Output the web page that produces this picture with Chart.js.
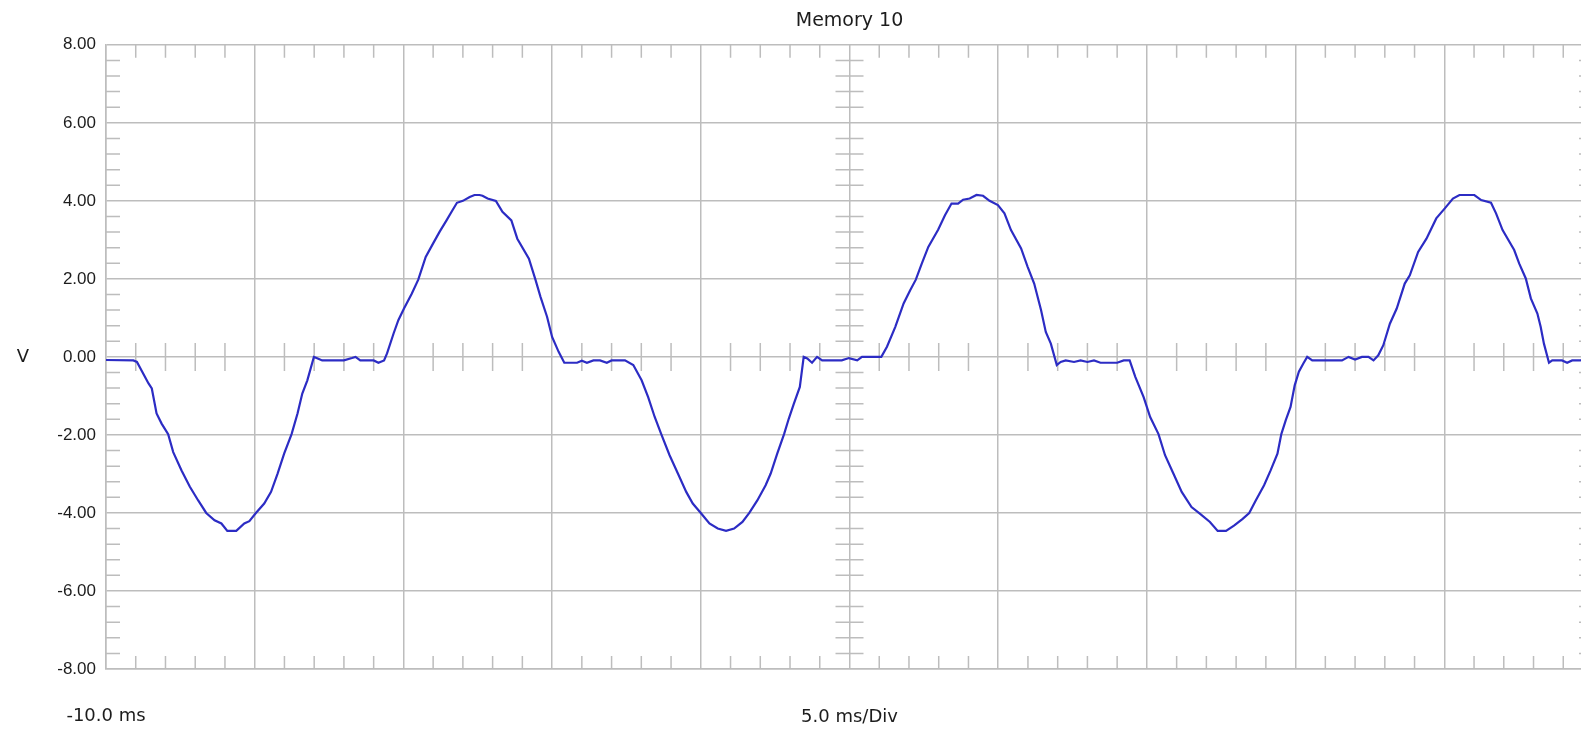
<!DOCTYPE html>
<html lang="en">
<head>
  <meta charset="UTF-8">
  <title>Memory 10</title>
  <script src="https://cdn.jsdelivr.net/npm/chart.js"></script>
  <style>
    body { margin: 0; background: #fff; overflow: hidden; }
  </style>
</head>
<body>
  <!-- the screen is wider than the window: the right border is cut off like in the photo -->
  <canvas id="chart" width="1630" height="729"></canvas>

  <script>
  // trace, time in ms, voltage in V
  const timeMs = [
    -10, -9.08, -8.96, -8.57, -8.46, -8.30, -8.13, -7.91, -7.74, -7.46, -7.18, -6.90, -6.63, -6.35,
    -6.12, -5.92, -5.62, -5.35, -5.18, -4.96, -4.68, -4.45, -4.23, -4.01, -3.76, -3.56, -3.40, -3.23,
    -3.01, -2.92, -2.73, -2.00, -1.73, -1.61, -1.45, -1.00, -0.84, -0.65, -0.55, -0.33, -0.17, 0.02,
    0.28, 0.50, 0.75, 1.00, 1.22, 1.45, 1.65, 1.80, 2.00, 2.23, 2.39, 2.56, 2.66, 2.83, 3.11, 3.33,
    3.63, 3.83, 4.22, 4.44, 4.61, 4.83, 5.00, 5.22, 5.41, 5.84, 6.00, 6.17, 6.39, 6.61, 6.84, 7.00,
    7.45, 7.73, 8.01, 8.23, 8.45, 8.67, 8.95, 9.23, 9.51, 9.73, 10.00, 10.29, 10.57, 10.85, 11.12,
    11.40, 11.63, 11.90, 12.18, 12.35, 12.57, 12.80, 12.96, 13.13, 13.33, 13.46, 13.58, 13.74, 13.91,
    14.08, 14.74, 14.98, 15.26, 15.42, 16.07, 16.26, 16.54, 16.82, 17.04, 17.23, 17.43, 17.65, 17.98,
    18.21, 18.43, 18.65, 18.82, 19.04, 19.27, 19.49, 19.71, 19.99, 20.21, 20.43, 20.77, 20.99, 21.21,
    21.44, 21.60, 21.77, 21.97, 22.10, 22.27, 22.55, 22.77, 23.00, 23.22, 23.44, 24.00, 24.22, 24.42,
    24.61, 24.89, 25.11, 25.39, 25.61, 25.89, 26.17, 26.50, 26.78, 27.12, 27.38, 27.66, 27.94, 28.22,
    28.44, 28.66, 28.94, 29.16, 29.39, 29.52, 29.67, 29.83, 29.97, 30.11, 30.26, 30.39, 30.56, 31.56,
    31.78, 32.00, 32.23, 32.45, 32.62, 32.78, 32.95, 33.17, 33.40, 33.67, 33.84, 34.12, 34.40, 34.73,
    35.01, 35.29, 35.51, 36.01, 36.24, 36.57, 36.74, 36.96, 37.35, 37.52, 37.74, 37.91, 38.13, 38.24,
    38.35, 38.52, 38.63, 38.96, 39.13, 39.30, 39.55, 39.80
  ];
  const volts = [
    -0.08, -0.09, -0.13, -0.68, -0.81, -1.45, -1.71, -1.98, -2.44, -2.91, -3.33, -3.68, -4.00, -4.19,
    -4.27, -4.46, -4.46, -4.27, -4.21, -4.00, -3.76, -3.46, -2.99, -2.48, -1.98, -1.45, -0.94, -0.60,
    0.00, -0.03, -0.09, -0.09, -0.03, 0.00, -0.09, -0.09, -0.15, -0.09, 0.09, 0.60, 0.94, 1.24,
    1.62, 1.98, 2.56, 2.91, 3.21, 3.50, 3.76, 3.95, 4.00, 4.10, 4.15, 4.15, 4.13, 4.06, 4.00, 3.72,
    3.50, 3.03, 2.52, 1.98, 1.54, 1.03, 0.51, 0.13, -0.15, -0.15, -0.10, -0.15, -0.09, -0.09, -0.15, -0.09,
    -0.09, -0.21, -0.60, -1.03, -1.54, -1.98, -2.52, -2.99, -3.46, -3.76, -4.00, -4.27, -4.40, -4.46, -4.40,
    -4.23, -4.00, -3.68, -3.29, -2.99, -2.48, -1.98, -1.58, -1.20, -0.77, 0.00, -0.04, -0.15, 0.00,
    -0.09, -0.09, -0.03, -0.09, 0.00, 0.00, 0.26, 0.77, 1.37, 1.71, 1.98, 2.39, 2.82, 3.26,
    3.63, 3.93, 3.93, 4.03, 4.06, 4.15, 4.13, 4.00, 3.89, 3.68, 3.25, 2.78, 2.31, 1.88,
    1.20, 0.64, 0.34, -0.21, -0.13, -0.09, -0.13, -0.09, -0.13, -0.09, -0.15, -0.15, -0.09, -0.09,
    -0.51, -1.03, -1.54, -1.98, -2.52, -2.99, -3.46, -3.85, -4.02, -4.23, -4.46, -4.46, -4.32, -4.15,
    -4.00, -3.68, -3.29, -2.91, -2.48, -1.98, -1.62, -1.28, -0.73, -0.38, -0.17, 0.00, -0.09, -0.09,
    0.00, -0.07, 0.00, 0.00, -0.09, 0.04, 0.30, 0.85, 1.24, 1.88, 2.09, 2.69, 3.03, 3.55,
    3.80, 4.06, 4.15, 4.15, 4.02, 3.95, 3.68, 3.25, 2.74, 2.39, 2.01, 1.50, 1.11, 0.77,
    0.34, -0.15, -0.09, -0.09, -0.15, -0.09, -0.09, -0.08
  ];

  const xMin = -10, xMax = 40, msPerDiv = 5;
  const yMin = -8, yMax = 8, voltsPerDiv = 2;
  const centerMs = 15;

  const gridColor = '#bdbdbd';
  const textColor = '#1c1c1c';
  const labelFont = '"DejaVu Sans", sans-serif';

  // small inward ticks: 5 per division on the border and on the centre cross
  const scopeMarks = {
    id: 'scopeMarks',
    beforeDatasetsDraw(chart) {
      const { ctx, chartArea: a, scales: { x, y } } = chart;
      const y0 = y.getPixelForValue(0);
      const xc = x.getPixelForValue(centerMs);
      ctx.save();
      ctx.strokeStyle = gridColor;
      ctx.lineWidth = 1.5;
      ctx.beginPath();
      for (let ms = xMin + 1; ms < xMax; ms++) {
        if (ms % msPerDiv === 0) continue;
        const px = x.getPixelForValue(ms);
        ctx.moveTo(px, a.top); ctx.lineTo(px, a.top + 13);
        ctx.moveTo(px, a.bottom); ctx.lineTo(px, a.bottom - 13);
        ctx.moveTo(px, y0 - 14); ctx.lineTo(px, y0 + 14);
      }
      const steps = (yMax - yMin) / voltsPerDiv * 5;
      for (let i = 1; i < steps; i++) {
        if (i % 5 === 0) continue;
        const py = y.getPixelForValue(yMin + i * voltsPerDiv / 5);
        ctx.moveTo(a.left, py); ctx.lineTo(a.left + 14, py);
        ctx.moveTo(a.right, py); ctx.lineTo(a.right - 14, py);
        ctx.moveTo(xc - 14, py); ctx.lineTo(xc + 14, py);
      }
      ctx.stroke();

      ctx.fillStyle = textColor;
      ctx.font = '18px ' + labelFont;
      ctx.textAlign = 'center';
      ctx.textBaseline = 'middle';
      ctx.fillText('V', 23, y0);
      ctx.restore();
    }
  };

  const points = timeMs.map((t, i) => ({ x: t, y: volts[i] }));

  const ctx = document.getElementById('chart').getContext('2d');
  const chart = new Chart(ctx, {
    type: 'line',
    data: {
      datasets: [{
        label: 'Memory 10',
        data: points,
        borderColor: 'rgb(44, 44, 196)',
        borderWidth: 2.2,
        pointRadius: 0,
        tension: 0,
        fill: false
      }]
    },
    options: {
      responsive: false,
      animation: false,
      layout: { padding: 0 },
      scales: {
        x: {
          type: 'linear',
          min: xMin,
          max: xMax,
          grid: { color: gridColor, lineWidth: 1.5, drawTicks: false },
          border: { color: gridColor, width: 1.5 },
          ticks: {
            stepSize: msPerDiv,
            padding: 37,
            maxRotation: 0,
            autoSkip: false,
            color: textColor,
            font: { family: labelFont, size: 18 },
            callback: v => v === xMin ? xMin.toFixed(1) + ' ms' : ''
          },
          title: {
            display: true,
            text: msPerDiv.toFixed(1) + ' ms/Div',
            color: textColor,
            font: { family: labelFont, size: 18 },
            padding: { top: 0, bottom: 1 }
          },
          afterFit: s => { s.height = 60; }
        },
        y: {
          min: yMin,
          max: yMax,
          grid: { color: gridColor, lineWidth: 1.5, drawTicks: false },
          border: { color: gridColor, width: 1.5 },
          ticks: {
            stepSize: voltsPerDiv,
            padding: 10,
            color: textColor,
            font: { family: '"Liberation Sans", sans-serif', size: 17 },
            callback: v => v.toFixed(2)
          },
          afterFit: s => { s.width = 106; }
        }
      },
      plugins: {
        legend: { display: false },
        tooltip: { enabled: false },
        title: {
          display: true,
          text: 'Memory 10',
          fullSize: false,
          color: textColor,
          font: { family: labelFont, size: 19, weight: 'normal' },
          padding: { top: 10, bottom: 12 }
        }
      }
    },
    plugins: [scopeMarks]
  });
  </script>
</body>
</html>
